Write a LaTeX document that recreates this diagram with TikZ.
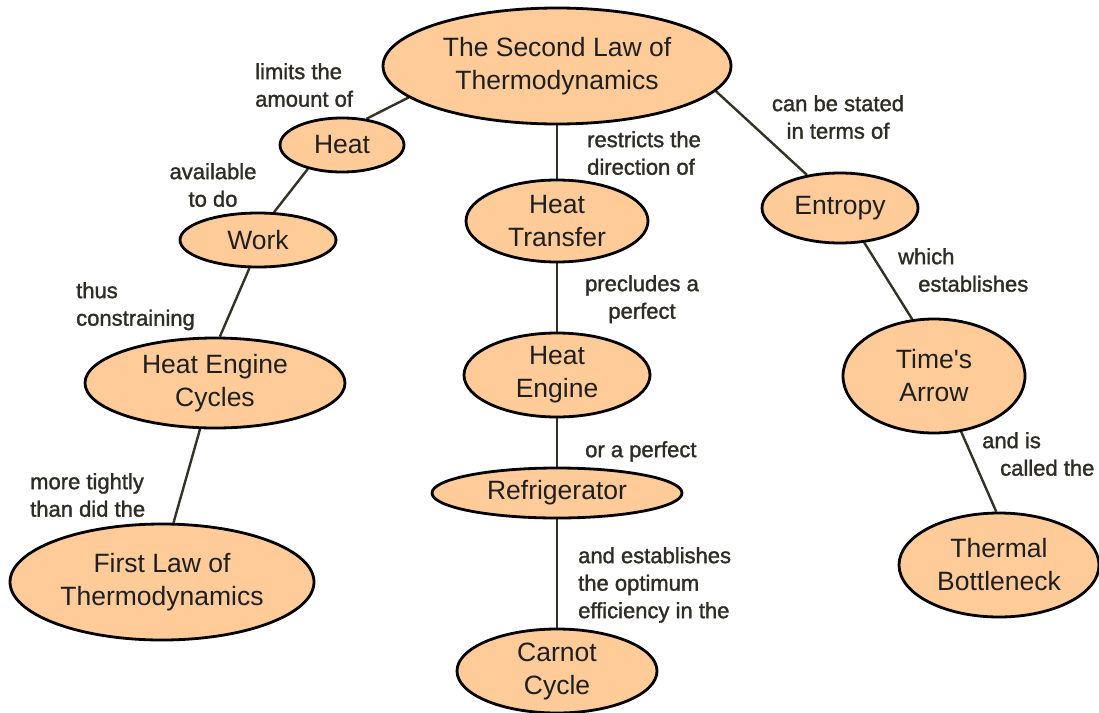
\documentclass[tikz,border=0pt]{standalone}
\usepackage{fontspec}
\setmainfont{Liberation Sans}
\newfontfamily\lblfont[FakeBold=1.4]{Liberation Sans}
\usetikzlibrary{shapes.geometric,backgrounds}
\definecolor{peach}{HTML}{FFCC99}
\definecolor{edgec}{HTML}{353125}
\definecolor{lblc}{HTML}{2E2C24}
\begin{document}
\begin{tikzpicture}[x=1pt,y=-1pt,
 concept/.style={ellipse, draw=black, line width=2.8pt, fill=peach, inner sep=0pt, align=center,
   font=\fontsize{26.5}{33}\selectfont, text=black!88},
 link/.style={draw=edgec, line width=2.4pt},
 lbl/.style={inner sep=0pt, anchor=north west, align=left,
   font=\lblfont\fontsize{22}{27.5}\selectfont, text=lblc}]
\useasboundingbox (0,0) rectangle (1099,712);

\node[concept, minimum width=348pt, minimum height=116pt] (sl) at (557,66) {The Second Law of\\Thermodynamics};
\node[concept, minimum width=124pt, minimum height=54pt] (heat) at (342,145) {Heat};
\node[concept, minimum width=156pt, minimum height=54pt] (work) at (258,240) {Work};
\node[concept, minimum width=260pt, minimum height=90pt] (hec) at (215,383) {Heat Engine\\Cycles};
\node[concept, minimum width=304pt, minimum height=116pt] (first) at (162,582) {First Law of\\Thermodynamics};
\node[concept, minimum width=182pt, minimum height=82pt] (ht) at (557,221) {Heat\\Transfer};
\node[concept, minimum width=186pt, minimum height=84pt] (he) at (557,375) {Heat\\Engine};
\node[concept, minimum width=250pt, minimum height=50pt] (ref) at (557,493) {Refrigerator};
\node[concept, minimum width=200pt, minimum height=84pt] (carnot) at (557,671) {Carnot\\Cycle};
\node[concept, minimum width=156pt, minimum height=70pt] (ent) at (840,208) {Entropy};
\node[concept, minimum width=182pt, minimum height=114pt] (time) at (934,376) {Time\textquotesingle s\\Arrow};
\node[concept, minimum width=200pt, minimum height=104pt] (tb) at (999,565) {Thermal\\Bottleneck};

\begin{pgfonlayer}{background}
\fill[white] (0,0) rectangle (1099,712);
\draw[link] (sl.192) -- (heat.47);
\draw[link] (heat.215) -- (work.60);
\draw[link] (work.253) -- (hec.84);
\draw[link] (hec.252) -- (first.79);
\draw[link] (sl) -- (ht);
\draw[link] (ht) -- (he);
\draw[link] (he) -- (ref);
\draw[link] (ref) -- (carnot);
\draw[link] (sl.351) -- (ent.135);
\draw[link] (ent.305) -- (time.111);
\draw[link] (time.296) -- (tb.93);
\end{pgfonlayer}

\node[lbl] (l1) at (255,63) {limits the\\amount of};
\node[lbl, align=center, anchor=north] (l2) at (213,163) {available\\to do};
\node[lbl] (l3) at (76,282) {thus\\constraining};
\node[lbl] (l4) at (30,473) {more tightly\\than did the};
\node[lbl] (l5) at (587,131) {restricts the\\direction of};
\node[lbl, align=center, anchor=north] (l6) at (642,275) {precludes a\\perfect};
\node[lbl] (l7) at (585,441) {or a perfect};
\node[lbl] (l8) at (578,547) {and establishes\\the optimum\\efficiency in the};
\node[lbl, align=center, anchor=north] (l9) at (838,95) {can be stated\\in terms of};
\node[lbl] (l10) at (898,248) {which\\\hspace*{20pt}establishes};
\node[lbl] (l11) at (982,432) {and is\\\hspace*{18pt}called the};
\end{tikzpicture}
\end{document}
